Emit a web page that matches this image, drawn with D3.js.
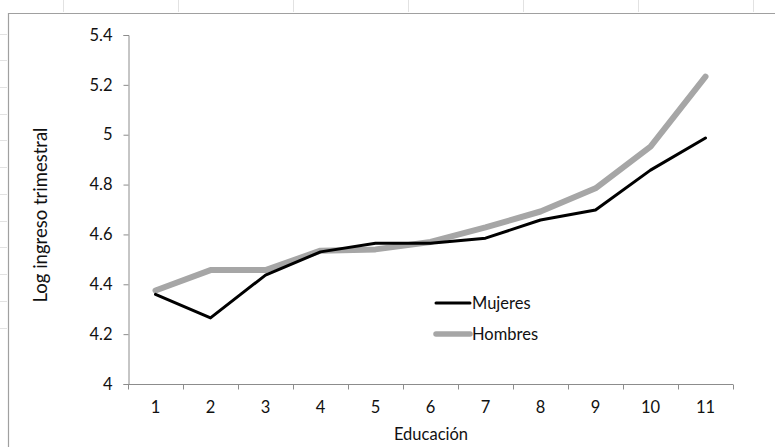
<!DOCTYPE html>
<html>
<head>
<meta charset="utf-8">
<script src="https://cdn.jsdelivr.net/npm/d3@7"></script>
<style>
  html, body { margin: 0; padding: 0; background: #fff; }
  svg { display: block; font-family: Lato, "Open Sans", sans-serif; }
</style>
</head>
<body>
<svg id="chart" width="775" height="447"></svg>
<script>
// Years of education (categories)
const educacion = [1, 2, 3, 4, 5, 6, 7, 8, 9, 10, 11];
// Log of quarterly income by sex
const mujeres = [4.36, 4.265, 4.437, 4.53, 4.565, 4.565, 4.585, 4.658, 4.698, 4.858, 4.987];
const hombres = [4.375, 4.457, 4.457, 4.535, 4.54, 4.57, 4.628, 4.692, 4.785, 4.952, 5.233];
const yTicks = [4, 4.2, 4.4, 4.6, 4.8, 5, 5.2, 5.4];

(function () {
const svg = d3.select("#chart");
const W = 775, H = 447;
const pLeft = 128, pRight = 733, pTop = 35, pBottom = 384;
const font = "Lato, 'Open Sans', sans-serif";
const labelSize = 16.5;

// faint sheet grid marks around the outer frame
const sheet = svg.append("g").attr("stroke", "#e2e2e2").attr("stroke-width", 1);
d3.range(12).forEach(i => {
  const yy = 33.5 + i * 26.73;
  sheet.append("line").attr("x1", 0).attr("x2", 7).attr("y1", Math.round(yy) + 0.5).attr("y2", Math.round(yy) + 0.5);
});
d3.range(7).forEach(i => {
  const xx = 63 + i * 115;
  sheet.append("line").attr("x1", xx + 0.5).attr("x2", xx + 0.5).attr("y1", 0).attr("y2", 12);
});

// chart frame (top and left edges visible)
svg.append("path")
  .attr("d", `M8.5,${H} V13.5 H${W}`)
  .attr("fill", "none").attr("stroke", "#a0a0a0").attr("stroke-width", 1.2);

const x = d3.scaleBand().domain(educacion).range([pLeft, pRight]);
const y = d3.scaleLinear().domain([4, 5.4]).range([pBottom, pTop]);

// y axis
const yAxis = svg.append("g")
  .attr("transform", `translate(${pLeft + 0.5},0)`)
  .call(d3.axisLeft(y).tickValues(yTicks).tickSize(5).tickPadding(11)
    .tickFormat(d => String(+d.toFixed(1))));
yAxis.selectAll("path, line").attr("stroke", "#8c8c8c");
yAxis.selectAll("text").attr("font-size", labelSize).attr("fill", "#111")
  .attr("font-family", font);

// x axis: ticks on band boundaries, labels in band centres
const xAxisG = svg.append("g").attr("transform", `translate(0,${pBottom + 0.5})`);
xAxisG.append("line").attr("x1", pLeft).attr("x2", pRight).attr("stroke", "#8c8c8c");
const bounds = educacion.map(d => x(d)).concat([pRight]);
xAxisG.selectAll("line.tick").data(bounds).join("line")
  .attr("class", "tick")
  .attr("x1", d => Math.round(d) + 0.5).attr("x2", d => Math.round(d) + 0.5)
  .attr("y1", 0).attr("y2", 5).attr("stroke", "#8c8c8c");
xAxisG.selectAll("text").data(educacion).join("text")
  .attr("x", d => x(d) + x.bandwidth() / 2)
  .attr("y", 28.5)
  .attr("text-anchor", "middle")
  .attr("font-size", labelSize).attr("fill", "#111")
  .text(d => d);

// axis titles
svg.append("text")
  .attr("x", 431).attr("y", 440)
  .attr("text-anchor", "middle").attr("font-size", 16.5).attr("fill", "#111")
  .text("Educación");
svg.append("text")
  .attr("transform", `translate(47,215) rotate(-90)`)
  .attr("text-anchor", "middle").attr("font-size", 18.5).attr("fill", "#111")
  .text("Log ingreso trimestral");

// series lines
const line = d3.line()
  .x((d, i) => x(educacion[i]) + x.bandwidth() / 2)
  .y(d => y(d));

svg.append("path").datum(hombres)
  .attr("d", line).attr("fill", "none")
  .attr("stroke", "#a6a6a6").attr("stroke-width", 6)
  .attr("stroke-linejoin", "round").attr("stroke-linecap", "round");
svg.append("path").datum(mujeres)
  .attr("d", line).attr("fill", "none")
  .attr("stroke", "#000").attr("stroke-width", 3)
  .attr("stroke-linejoin", "round").attr("stroke-linecap", "round");

// legend
const legend = [
  { name: "Mujeres", color: "#000", w: 3, y: 303 },
  { name: "Hombres", color: "#a6a6a6", w: 5.5, y: 334 }
];
const lg = svg.append("g");
legend.forEach(d => {
  lg.append("line").attr("x1", 436).attr("x2", 470).attr("y1", d.y).attr("y2", d.y)
    .attr("stroke", d.color).attr("stroke-width", d.w).attr("stroke-linecap", "round");
  lg.append("text").attr("x", 472).attr("y", d.y + 5.5)
    .attr("font-size", labelSize).attr("fill", "#111").text(d.name);
});
})();
</script>
</body>
</html>
